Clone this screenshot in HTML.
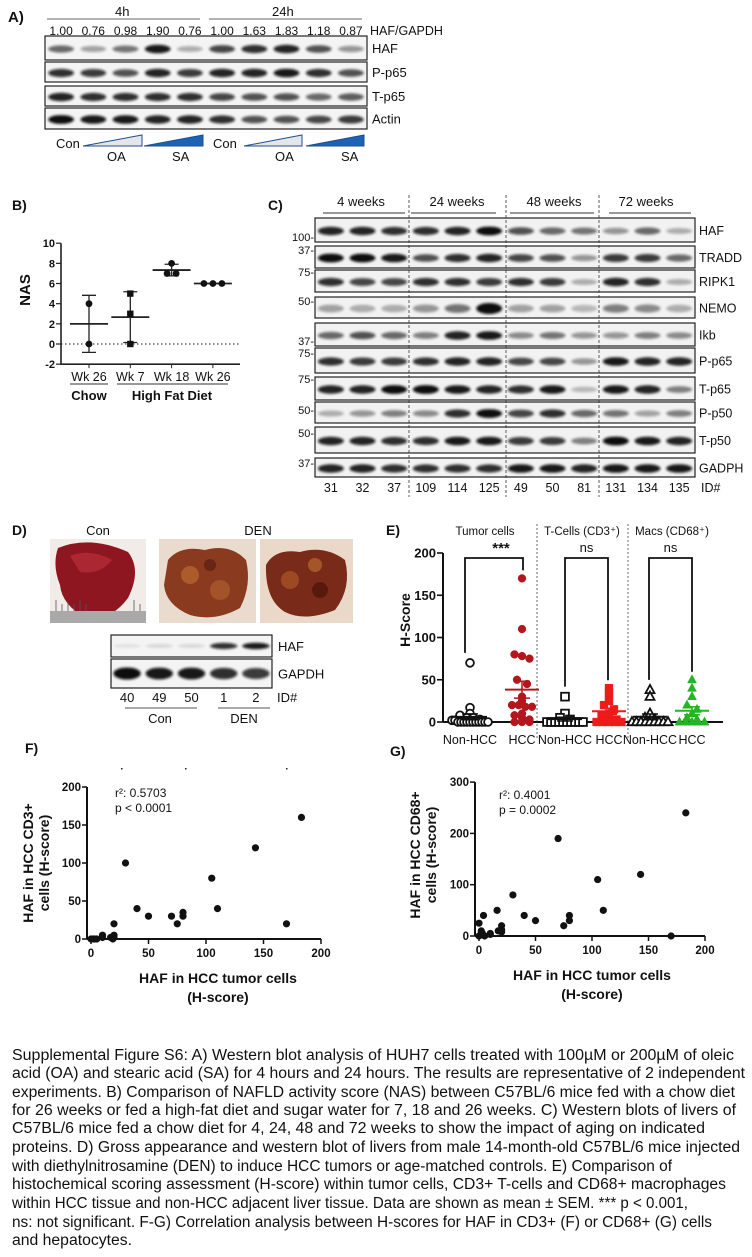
<!DOCTYPE html>
<html><head><meta charset="utf-8"><style>
html,body{margin:0;padding:0;background:#fff;}
svg{display:block;}
text{font-family:"Liberation Sans",Arial,sans-serif;fill:#111;}
.b{font-weight:bold;}
</style></head><body>
<svg id="fig" width="752" height="1257" viewBox="0 0 752 1257" xmlns="http://www.w3.org/2000/svg">
<defs>
<filter id="bl" x="-20%" y="-80%" width="140%" height="260%"><feGaussianBlur stdDeviation="1.2"/></filter>
</defs>

<!-- Panel A -->
<g id="panelA">
<text x="8" y="22" font-size="15" class="b">A)</text>
<text x="115" y="16" font-size="13">4h</text>
<line x1="47" y1="19" x2="200" y2="19" stroke="#666"/>
<text x="272" y="16" font-size="13">24h</text>
<line x1="209" y1="19" x2="362" y2="19" stroke="#666"/>
<text x="370" y="35" font-size="12.5">HAF/GAPDH</text>
<g id="aNums"></g>
<g id="aBlot"></g>
<text x="56" y="148" font-size="13">Con</text>
<polygon points="83,146 142,146 142,135" fill="#e3e6ea" stroke="#1f4e8c"/>
<polygon points="144,146 203,146 203,135" fill="#1d63b5" stroke="#1f4e8c"/>
<text x="107" y="161" font-size="13">OA</text>
<text x="172" y="161" font-size="13">SA</text>
<text x="213" y="148" font-size="13">Con</text>
<polygon points="244,146 302,146 302,135" fill="#e3e6ea" stroke="#1f4e8c"/>
<polygon points="306,146 364,146 364,135" fill="#1d63b5" stroke="#1f4e8c"/>
<text x="275" y="161" font-size="13">OA</text>
<text x="341" y="161" font-size="13">SA</text>
</g>

<!-- Panel B -->
<g id="panelB">
<text x="12" y="210" font-size="14" class="b">B)</text>
<text transform="translate(30,290) rotate(-90)" text-anchor="middle" font-size="15" class="b">NAS</text>
<g id="bChart"></g>
<text x="89" y="400" font-size="13" class="b" text-anchor="middle">Chow</text>
<line x1="70" y1="384" x2="108" y2="384" stroke="#333"/>
<text x="172" y="400" font-size="13" class="b" text-anchor="middle">High Fat Diet</text>
<line x1="117" y1="384" x2="228" y2="384" stroke="#333"/>
</g>

<!-- Panel C -->
<g id="panelC">
<text x="268" y="210" font-size="14" class="b">C)</text>
<g id="cBlot"></g>
</g>

<!-- Panel D -->
<g id="panelD">
<text x="12" y="535" font-size="14" class="b">D)</text>
<text x="98" y="535" font-size="13" text-anchor="middle">Con</text>
<text x="258" y="535" font-size="13" text-anchor="middle">DEN</text>
<g>
<rect x="50" y="539" width="96" height="84" fill="#f1ece8"/>
<path d="M58,548 Q90,535 128,552 Q142,570 128,598 Q110,622 86,618 Q62,605 60,585 Q52,565 58,548Z" fill="#8e1620"/>
<path d="M70,556 Q90,548 112,560 Q100,575 80,572Z" fill="#b8303a" opacity="0.7"/>
<rect x="50" y="611" width="96" height="12" fill="#a9a9a9"/>
<g stroke="#555" stroke-width="0.8"><line x1="56" y1="600" x2="56" y2="611"/><line x1="62" y1="604" x2="62" y2="611"/><line x1="68" y1="602" x2="68" y2="611"/><line x1="74" y1="604" x2="74" y2="611"/><line x1="80" y1="600" x2="80" y2="611"/><line x1="86" y1="604" x2="86" y2="611"/><line x1="134" y1="600" x2="134" y2="611"/><line x1="140" y1="604" x2="140" y2="611"/></g>
</g>
<g>
<rect x="159" y="539" width="97" height="84" fill="#e9dccf"/>
<path d="M168,560 Q180,545 205,550 Q230,543 246,560 Q252,585 240,608 Q215,622 190,615 Q166,605 164,585Z" fill="#8a3a1e"/>
<circle cx="190" cy="575" r="9" fill="#b4652e" opacity="0.8"/><circle cx="220" cy="590" r="10" fill="#a75a2a" opacity="0.8"/><circle cx="210" cy="565" r="6" fill="#5a1e10" opacity="0.7"/>
</g>
<g>
<rect x="260" y="539" width="93" height="84" fill="#ead9c8"/>
<path d="M266,565 Q275,548 300,552 Q325,545 345,560 Q352,588 335,610 Q305,622 285,612 Q265,600 266,565Z" fill="#7a2a18"/>
<circle cx="290" cy="580" r="9" fill="#a55128" opacity="0.8"/><circle cx="320" cy="590" r="8" fill="#4a1208" opacity="0.7"/><circle cx="315" cy="565" r="7" fill="#b0602d" opacity="0.8"/>
</g>
<g id="dBlot"></g>
<text x="160" y="723" font-size="13" text-anchor="middle">Con</text>
<line x1="125" y1="708" x2="197" y2="708" stroke="#555"/>
<text x="244" y="723" font-size="13" text-anchor="middle">DEN</text>
<line x1="218" y1="708" x2="270" y2="708" stroke="#555"/>
</g>

<!-- Panel E -->
<g id="panelE">
<text x="386" y="535" font-size="14" class="b">E)</text>
<text x="485" y="535" font-size="11.5" text-anchor="middle">Tumor cells</text>
<text x="582" y="535" font-size="11.5" text-anchor="middle">T-Cells (CD3⁺)</text>
<text x="672" y="535" font-size="11.5" text-anchor="middle">Macs (CD68⁺)</text>
<text transform="translate(410,620) rotate(-90)" text-anchor="middle" font-size="14" class="b">H-Score</text>
<g id="eChart"></g>
</g>

<!-- Panel F -->
<g id="panelF">
<text x="25" y="753" font-size="14" class="b">F)</text>
<g fill="#222"><rect x="121" y="768" width="1.5" height="1.5"/><rect x="185" y="768" width="1.5" height="1.5"/><rect x="286" y="768" width="1.5" height="1.5"/></g>
<text x="115" y="797" font-size="12">r²: 0.5703</text>
<text x="115" y="812" font-size="12">p &lt; 0.0001</text>
<text transform="translate(33,863) rotate(-90)" text-anchor="middle" font-size="14" class="b">HAF in HCC CD3+</text>
<text transform="translate(49,863) rotate(-90)" text-anchor="middle" font-size="14" class="b">cells (H-score)</text>
<text x="218" y="983" font-size="14" class="b" text-anchor="middle">HAF in HCC tumor cells</text>
<text x="218" y="1002" font-size="14" class="b" text-anchor="middle">(H-score)</text>
<g id="fChart"></g>
</g>

<!-- Panel G -->
<g id="panelG">
<text x="390" y="756" font-size="14" class="b">G)</text>
<text x="499" y="799" font-size="12">r²: 0.4001</text>
<text x="499" y="814" font-size="12">p = 0.0002</text>
<text transform="translate(420,855) rotate(-90)" text-anchor="middle" font-size="14" class="b">HAF in HCC CD68+</text>
<text transform="translate(436,855) rotate(-90)" text-anchor="middle" font-size="14" class="b">cells (H-score)</text>
<text x="592" y="980" font-size="14" class="b" text-anchor="middle">HAF in HCC tumor cells</text>
<text x="592" y="999" font-size="14" class="b" text-anchor="middle">(H-score)</text>
<g id="gChart"></g>
</g>

<!-- Caption -->
<g font-size="15.5">
<text x="12" y="1060" textLength="722" lengthAdjust="spacingAndGlyphs">Supplemental Figure S6: A) Western blot analysis of HUH7 cells treated with 100µM or 200µM of oleic</text>
<text x="12" y="1078" textLength="733" lengthAdjust="spacingAndGlyphs">acid (OA) and stearic acid (SA) for 4 hours and 24 hours. The results are representative of 2 independent</text>
<text x="12" y="1097" textLength="723" lengthAdjust="spacingAndGlyphs">experiments. B) Comparison of NAFLD activity score (NAS) between C57BL/6 mice fed with a chow diet</text>
<text x="12" y="1115" textLength="724" lengthAdjust="spacingAndGlyphs">for 26 weeks or fed a high-fat diet and sugar water for 7, 18 and 26 weeks. C) Western blots of livers of</text>
<text x="12" y="1133" textLength="693" lengthAdjust="spacingAndGlyphs">C57BL/6 mice fed a chow diet for 4, 24, 48 and 72 weeks to show the impact of aging on indicated</text>
<text x="12" y="1152" textLength="728" lengthAdjust="spacingAndGlyphs">proteins. D) Gross appearance and western blot of livers from male 14-month-old C57BL/6 mice injected</text>
<text x="12" y="1171" textLength="660" lengthAdjust="spacingAndGlyphs">with diethylnitrosamine (DEN) to induce HCC tumors or age-matched controls. E) Comparison of</text>
<text x="12" y="1189" textLength="714" lengthAdjust="spacingAndGlyphs">histochemical scoring assessment (H-score) within tumor cells, CD3+ T-cells and CD68+ macrophages</text>
<text x="12" y="1208" textLength="676" lengthAdjust="spacingAndGlyphs">within HCC tissue and non-HCC adjacent liver tissue. Data are shown as mean ± SEM. *** p &lt; 0.001,</text>
<text x="12" y="1227" textLength="700" lengthAdjust="spacingAndGlyphs">ns: not significant. F-G) Correlation analysis between H-scores for HAF in CD3+ (F) or CD68+ (G) cells</text>
<text x="12" y="1245" textLength="120" lengthAdjust="spacingAndGlyphs">and hepatocytes.</text>
</g>
</svg>

<script>
// ---------- data ----------
const aRatios = ['1.00','0.76','0.98','1.90','0.76','1.00','1.63','1.83','1.18','0.87'];
const aRowNames = ['HAF','P-p65','T-p65','Actin'];
const aHAF = [0.6,0.35,0.55,0.95,0.3,0.75,0.85,0.9,0.7,0.4];
const aPp65 = [0.85,0.8,0.7,0.9,0.8,0.9,0.9,0.95,0.85,0.7];
const aTp65 = [0.9,0.85,0.85,0.85,0.85,0.75,0.7,0.7,0.6,0.65];
const aActin = [1,0.95,0.95,0.9,0.9,0.85,0.7,0.7,0.75,0.8];

const cGroups = ['4 weeks','24 weeks','48 weeks','72 weeks'];
const cIds = ['31','32','37','109','114','125','49','50','81','131','134','135'];
const cRowNames = ['HAF','TRADD','RIPK1','NEMO','Ikb','P-p65','T-p65','P-p50','T-p50','GADPH'];
const cMW = ['100-','37-','75-','50-','37-','75-','75-','50-','50-','37-'];
const cHAF = [.9,.9,.85,.85,.9,1,.7,.6,.55,.4,.6,.3];
const cTRADD = [1,1,.95,.7,.85,.9,.75,.7,.4,.8,.8,.6];
const cRIPK1 = [.85,.75,.75,.85,.85,.8,.85,.8,.3,.9,.85,.3];
const cNEMO = [.35,.3,.3,.4,.55,1,.35,.35,.25,.5,.45,.3];
const cIkb = [.6,.7,.6,.5,.9,.95,.45,.55,.4,.4,.5,.45];
const cPp65 = [.85,.8,.8,.85,.9,.9,.75,.75,.4,.95,.9,.9];
const cTp65 = [.9,.9,1,1,.95,.9,.85,.95,.25,.95,.9,.5];
const cPp50 = [.3,.4,.5,.45,.85,1,.75,.85,.6,.55,.35,.5];
const cTp50 = [.9,.9,.85,.85,.95,.95,.8,.8,.5,1,.95,.9];
const cGADPH = [.9,.9,.85,.85,.85,.85,.95,.95,.9,.95,.95,.95];

const dIds = ['40','49','50','1','2'];
const dHAF = [.08,.12,.12,.85,.95];
const dGAPDH = [1,.95,.95,.85,.8];

const nasCats = ['Wk 26','Wk 7','Wk 18','Wk 26'];
const nasPoints = [[4,0],[5,3,0],[8,7,7],[6,6,6]];
const nasTicks = [-2,0,2,4,6,8,10];

const eCats = ['Non-HCC','HCC','Non-HCC','HCC','Non-HCC','HCC'];
const eTumorNon = [70,17,10,8,5,5,3,2,2,0,0,0,0,0,0,0,0,0,0,0];
const eTumorHCC = [170,110,80,78,75,50,45,30,25,20,20,18,18,10,8,5,3,0,0,0];
const eCd3Non = [30,10,5,3,0,0,0,0,0,0,0,0,0,0];
const eCd3HCC = [40,35,30,25,20,15,10,8,5,3,0,0,0,0,0];
const eCd68Non = [38,30,10,5,3,0,0,0,0,0,0,0,0,0];
const eCd68HCC = [50,40,30,20,15,10,5,3,0,0,0,0,0];
const eTicks = [0,50,100,150,200];
const eSig = ['***','ns','ns'];

const fX = [0,2,3,5,10,10,17,19,20,20,20,30,40,50,70,75,80,80,105,110,143,170,183];
const fY = [0,0,0,0,5,2,2,0,20,5,2,100,40,30,30,20,30,35,80,40,120,20,160];
const fXTicks = [0,50,100,150,200];
const fYTicks = [0,50,100,150,200];

const gX = [0,0,2,3,4,5,10,10,16,17,20,20,20,30,40,50,70,75,80,80,105,110,143,170,183];
const gY = [25,0,10,5,40,0,5,3,50,10,20,8,12,80,40,30,190,20,30,40,110,50,120,0,240];
const gXTicks = [0,50,100,150,200];
const gYTicks = [0,100,200,300];

// ---------- helpers ----------
const NS = 'http://www.w3.org/2000/svg';
function mk(parent, tag, attrs, txt) {
  const e = document.createElementNS(NS, tag);
  for (const k in attrs) e.setAttribute(k, attrs[k]);
  if (txt !== undefined) e.textContent = txt;
  parent.appendChild(e);
  return e;
}
function band(g, cx, cy, w, h, v, name) {
  const el = mk(g, 'ellipse', {cx: cx, cy: cy, rx: w/2, ry: h/2*(0.6+0.5*v), fill: '#111', opacity: Math.min(1, v), filter: 'url(#bl)'});
  
  
}

// ---------- Panel A blot ----------
(function(){
  const g = document.getElementById('aBlot');
  const nums = document.getElementById('aNums');
  const x0 = 45, x1 = 367, n = aRatios.length, lw = (x1-x0)/n;
  aRatios.forEach((r,i)=>{
    const t = mk(nums,'text',{x:x0+lw*(i+0.5),y:35,'font-size':12,'text-anchor':'middle'},r);
    
    
  });
  const rows = [aHAF,aPp65,aTp65,aActin];
  const ys = [[36,60],[62,82],[86,106],[108,129]];
  rows.forEach((vals,ri)=>{
    const [ya,yb] = ys[ri];
    const box = mk(g,'rect',{x:x0,y:ya,width:x1-x0,height:yb-ya,fill:'#f4f4f4',stroke:'#222','stroke-width':1.2});
    
    
    vals.forEach((v,i)=>band(g, x0+lw*(i+0.5), (ya+yb)/2+1, lw*0.8, 8, v, 'band'));
    const lab = mk(g,'text',{x:372,y:(ya+yb)/2+5,'font-size':13},aRowNames[ri]);
    
    
  });
})();

// ---------- Panel C blot ----------
(function(){
  const g = document.getElementById('cBlot');
  const x0 = 315, x1 = 695, n = cIds.length, lw = (x1-x0)/n;
  const rows = [cHAF,cTRADD,cRIPK1,cNEMO,cIkb,cPp65,cTp65,cPp50,cTp50,cGADPH];
  const ys = [[218,242],[246,268],[270,292],[297,318],[323,346],[348,373],[377,400],[402,423],[427,453],[458,477]];
  const mwY = [237,250,272,301,341,353,379,410,433,463];
  const gx = [361,457,554,646], lines=[[323,405],[411,496],[510,594],[609,691]];
  cGroups.forEach((t,i)=>{
    const e = mk(g,'text',{x:gx[i],y:206,'font-size':13,'text-anchor':'middle'},t);
    
    
    const l = mk(g,'line',{x1:lines[i][0],y1:213,x2:lines[i][1],y2:213,stroke:'#333'});
    
    
  });
  rows.forEach((vals,ri)=>{
    const [ya,yb] = ys[ri];
    const box = mk(g,'rect',{x:x0,y:ya,width:x1-x0,height:yb-ya,fill:'#f2f2f2',stroke:'#222','stroke-width':1.2});
    
    
    vals.forEach((v,i)=>band(g, x0+lw*(i+0.5), (ya+yb)/2+1, lw*0.82, ri===3?10:8, v, 'band'));
    const lab = mk(g,'text',{x:699,y:(ya+yb)/2+5,'font-size':12.5},cRowNames[ri]);
    
    
    const mw = mk(g,'text',{x:314,y:mwY[ri]+4,'font-size':11,'text-anchor':'end'},cMW[ri]);
    
    
  });
  [409,506,599].forEach(x=>{
    const l = mk(g,'line',{x1:x,y1:195,x2:x,y2:497,stroke:'#333','stroke-dasharray':'3,2','stroke-width':0.8});
    
    
  });
  cIds.forEach((t,i)=>{
    const e = mk(g,'text',{x:x0+lw*(i+0.5),y:492,'font-size':12.5,'text-anchor':'middle'},t);
    
    
  });
  const id = mk(g,'text',{x:701,y:492,'font-size':12.5},'ID#');
  
  
})();

// ---------- Panel D blot ----------
(function(){
  const g = document.getElementById('dBlot');
  const x0 = 111, x1 = 272, lw = (x1-x0)/dIds.length;
  [[dHAF,635,657,'HAF'],[dGAPDH,659,688,'GAPDH']].forEach(([vals,ya,yb,nm])=>{
    const box = mk(g,'rect',{x:x0,y:ya,width:x1-x0,height:yb-ya,fill:'#f4f4f4',stroke:'#222','stroke-width':1.2});
    
    
    vals.forEach((v,i)=>band(g, x0+lw*(i+0.5), (ya+yb)/2, lw*0.85, nm==='GAPDH'?11:6, v, 'band'));
    const lab = mk(g,'text',{x:278,y:(ya+yb)/2+5,'font-size':13},nm);
    
    
  });
  dIds.forEach((t,i)=>{
    const e = mk(g,'text',{x:x0+lw*(i+0.5),y:702,'font-size':13,'text-anchor':'middle'},t);
    
    
  });
  const id = mk(g,'text',{x:277,y:702,'font-size':13},'ID#');
  
  
})();

// ---------- Panel B chart ----------
(function(){
  const g = document.getElementById('bChart');
  const yS = v => 344 - v*10.08;
  const catX = i => 89 + i*41.3;
  const AX = 61, AXE = 240;
  const ax = mk(g,'path',{d:'M'+AX+','+yS(10)+' L'+AX+','+yS(-2)+' L'+AXE+','+yS(-2),fill:'none',stroke:'#222','stroke-width':1.6});
  
  
  const zl = mk(g,'line',{x1:AX,y1:yS(0),x2:AXE,y2:yS(0),stroke:'#222','stroke-dasharray':'1.5,2.5'});
  
  
  nasTicks.forEach(t=>{
    const tk = mk(g,'line',{x1:AX-5,y1:yS(t),x2:AX,y2:yS(t),stroke:'#222','stroke-width':1.2});
    
    
    const lb = mk(g,'text',{x:AX-6,y:yS(t)+4,'font-size':11,'text-anchor':'end',class:'b'},String(t));
    
    
  });
  nasCats.forEach((c,i)=>{
    const x = catX(i);
    const tk = mk(g,'line',{x1:x,y1:yS(-2),x2:x,y2:yS(-2)+4,stroke:'#222'});
    
    
    const lb = mk(g,'text',{x:x,y:381,'font-size':12.5,'text-anchor':'middle'},c);
    
    
    const pts = nasPoints[i];
    const m = pts.reduce((a,b)=>a+b,0)/pts.length;
    const sd = pts.length>1 ? Math.sqrt(pts.reduce((a,b)=>a+(b-m)*(b-m),0)/(pts.length-1)) : 0;
    const eb = mk(g,'path',{d:`M${x},${yS(m+sd)} L${x},${yS(m-sd)} M${x-7},${yS(m+sd)} L${x+7},${yS(m+sd)} M${x-7},${yS(m-sd)} L${x+7},${yS(m-sd)}`,stroke:'#222','stroke-width':1.3,fill:'none'});
    
    
    const ml = mk(g,'line',{x1:x-19,y1:yS(m),x2:x+19,y2:yS(m),stroke:'#222','stroke-width':1.8});
    
    
    const seen = {};
    pts.forEach(v=>{
      seen[v] = (seen[v]||0)+1;
      const dup = pts.filter(p=>p===v).length;
      const off = dup>1 ? (seen[v]-1-(dup-1)/2)*9 : 0;
      let p;
      if (i===1) p = mk(g,'rect',{x:x+off-3.2,y:yS(v)-3.2,width:6.4,height:6.4,fill:'#111'});
      else p = mk(g,'circle',{cx:x+off,cy:yS(v),r:3.4,fill:'#111'});
      
      
    });
  });
})();

// ---------- Panel E chart ----------
(function(){
  const g = document.getElementById('eChart');
  const yS = v => 722 - v*0.845;
  const catX = [470,522,565,609,650,692];
  const series = [eTumorNon,eTumorHCC,eCd3Non,eCd3HCC,eCd68Non,eCd68HCC];
  const colors = ['#111','#b3161d','#111','#ee1b1b','#111','#24b424'];
  const filled = [false,true,false,true,false,true];
  const shapes = ['circle','circle','square','square','tri','tri'];
  const ax = mk(g,'path',{d:`M443,${yS(200)} L443,${yS(0)} M443,${yS(0)} L723,${yS(0)}`,stroke:'#111','stroke-width':2,fill:'none'});
  
  
  eTicks.forEach(t=>{
    const tk = mk(g,'line',{x1:437,y1:yS(t),x2:443,y2:yS(t),stroke:'#111','stroke-width':1.6});
    
    
    const lb = mk(g,'text',{x:436,y:yS(t)+4.5,'font-size':13,'text-anchor':'end',class:'b'},String(t));
    
    
  });
  [537,628].forEach(x=>{
    const l = mk(g,'line',{x1:x,y1:524,x2:x,y2:740,stroke:'#444','stroke-dasharray':'2,2','stroke-width':0.8});
    
    
  });
  eCats.forEach((c,i)=>{
    const lb = mk(g,'text',{x:catX[i],y:744,'font-size':12.5,'text-anchor':'middle'},c);
    
    
  });
  series.forEach((vals,i)=>{
    const x = catX[i];
    const counts = {};
    vals.forEach(v=>{
      const key = Math.round(v/6);
      counts[key] = (counts[key]||0)+1;
      const idx = counts[key]-1;
      const tot = vals.filter(p=>Math.round(p/6)===key).length;
      const spread = Math.min(36, tot*5);
      const off = tot>1 ? (idx/(tot-1)-0.5)*spread : 0;
      const cx = x+off, cy = yS(v);
      let p;
      const st = {fill: filled[i]?colors[i]:'#fff', stroke: colors[i], 'stroke-width': filled[i]?0.5:1.8};
      if (shapes[i]==='circle') p = mk(g,'circle',Object.assign({cx:cx,cy:cy,r:3.9},st));
      else if (shapes[i]==='square') p = mk(g,'rect',Object.assign({x:cx-3.9,y:cy-3.9,width:7.8,height:7.8},st));
      else p = mk(g,'polygon',Object.assign({points:`${cx},${cy-5} ${cx+4.5},${cy+3.2} ${cx-4.5},${cy+3.2}`},st));
      
      
    });
    const m = vals.reduce((a,b)=>a+b,0)/vals.length;
    const sd = Math.sqrt(vals.reduce((a,b)=>a+(b-m)*(b-m),0)/(vals.length-1));
    const sem = sd/Math.sqrt(vals.length);
    const col = filled[i]?colors[i]:'#111';
    const ml = mk(g,'line',{x1:x-17,y1:yS(m),x2:x+17,y2:yS(m),stroke:col,'stroke-width':2});
    
    
    const eb = mk(g,'path',{d:`M${x},${yS(m+sem)} L${x},${yS(m-sem)} M${x-8},${yS(m+sem)} L${x+8},${yS(m+sem)} M${x-8},${yS(m-sem)} L${x+8},${yS(m-sem)}`,stroke:col,'stroke-width':1.5,fill:'none'});
    
    
  });
  const brX = [[465,523],[565,608],[649,692]];
  for (let k=0;k<3;k++){
    const xa = brX[k][0], xb = brX[k][1];
    const ya = yS(Math.max(...series[2*k]))-10, yb = yS(Math.max(...series[2*k+1]))-8;
    const br = mk(g,'path',{d:`M${xa},${ya} L${xa},558 L${xb},558 L${xb},${yb}`,stroke:'#111','stroke-width':1.8,fill:'none'});
    
    
    const st = mk(g,'text',{x:(xa+xb)/2+(k===0?7:0),y:eSig[k]==='***'?553:552,'font-size':eSig[k]==='***'?15:13,'text-anchor':'middle',class:eSig[k]==='***'?'b':''},eSig[k]);
    
    
  }
})();

// ---------- scatter helper ----------
function scatter(gid, xs, ys, xT, yT, ox, oy, sx, sy, xmax, ymax, prefix){
  const g = document.getElementById(gid);
  const X = v => ox + v*sx, Y = v => oy - v*sy;
  const ax = mk(g,'path',{d:`M${ox-4},${Y(ymax)} L${ox-4},${oy} M${ox-4},${oy} L${X(xmax)},${oy}`,stroke:'#111','stroke-width':2,fill:'none'});
  
  
  yT.forEach(t=>{
    const tk = mk(g,'line',{x1:ox-9,y1:Y(t),x2:ox-4,y2:Y(t),stroke:'#111','stroke-width':1.5});
    
    
    const lb = mk(g,'text',{x:ox-10,y:Y(t)+4,'font-size':11.5,'text-anchor':'end',class:'b'},String(t));
    
    
  });
  xT.forEach(t=>{
    const tk = mk(g,'line',{x1:X(t),y1:oy,x2:X(t),y2:oy+5,stroke:'#111','stroke-width':1.5});
    
    
    const lb = mk(g,'text',{x:X(t),y:oy+18,'font-size':11.5,'text-anchor':'middle',class:'b'},String(t));
    
    
  });
  xs.forEach((v,i)=>{
    const p = mk(g,'circle',{cx:X(v),cy:Y(ys[i]),r:3.6,fill:'#111'});
    
    
  });
}
scatter('fChart', fX, fY, fXTicks, fYTicks, 91, 939, 1.15, 0.76, 200, 200, 'cd3');
scatter('gChart', gX, gY, gXTicks, gYTicks, 479, 936, 1.13, 0.513, 200, 300, 'cd68');
</script>
</body></html>
